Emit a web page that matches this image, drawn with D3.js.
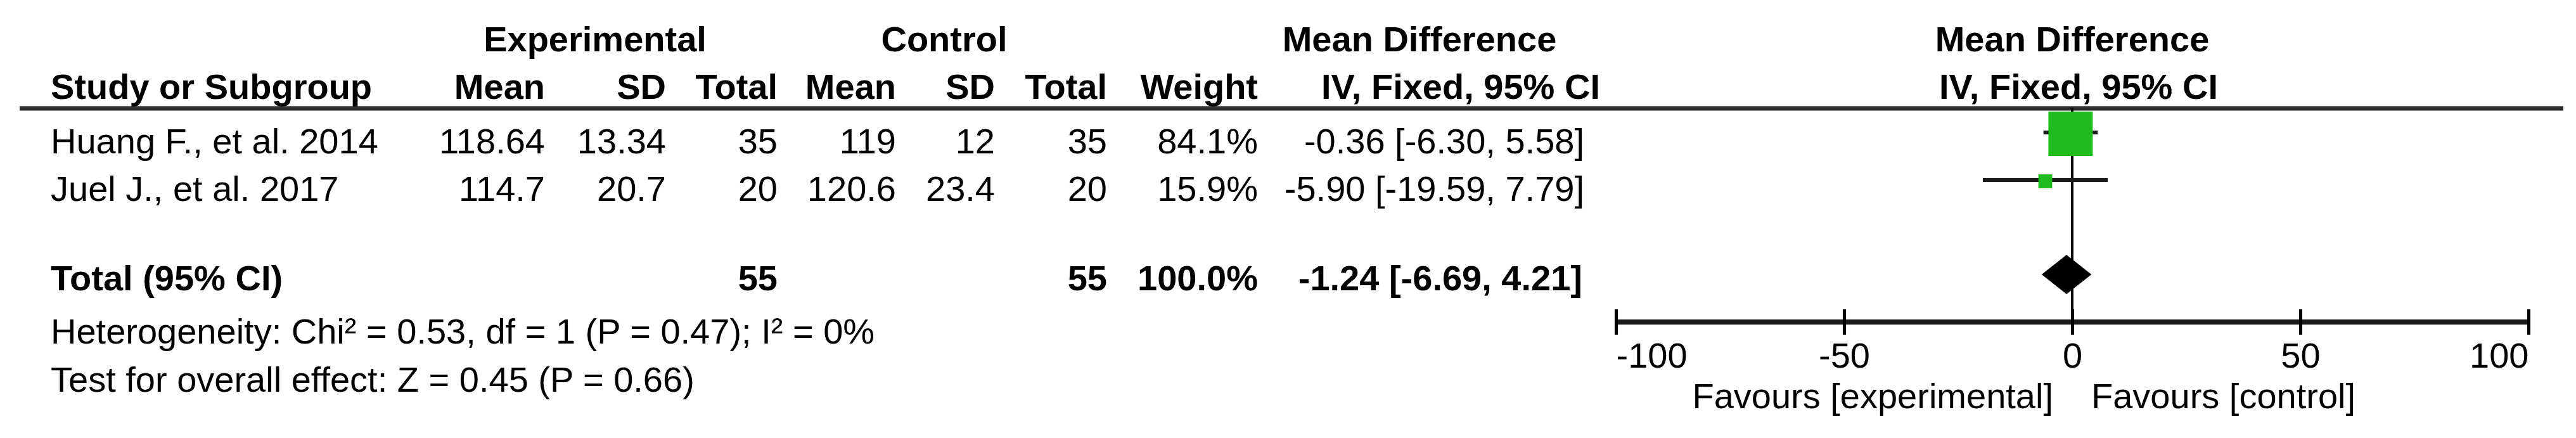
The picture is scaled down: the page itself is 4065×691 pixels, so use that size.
<!DOCTYPE html>
<html>
<head>
<meta charset="utf-8">
<script src="https://cdn.jsdelivr.net/npm/d3@7"></script>
<style>
  body { margin: 0; background: #fff; }
  text { font-family: "Liberation Sans", Arial, sans-serif; font-size: 56px; fill: #000; }
  .b { font-weight: bold; }
</style>
</head>
<body>
<div id="chart"></div>
<script>
// forest plot: mean difference, IV fixed effect

var studies  = ["Huang F., et al. 2014", "Juel J., et al. 2017"];
var expMean  = [118.64, 114.7];
var expSD    = [13.34, 20.7];
var expN     = [35, 20];
var ctlMean  = [119, 120.6];
var ctlSD    = [12, 23.4];
var ctlN     = [35, 20];
var weights  = [84.1, 15.9];
var md       = [-0.36, -5.90];
var ciLow    = [-6.30, -19.59];
var ciHigh   = [5.58, 7.79];

var totalN      = [55, 55];
var totalWeight = 100.0;
var totalMD     = -1.24;
var totalLow    = -6.69;
var totalHigh   = 4.21;

var axisTicks = [-100, -50, 0, 50, 100];
var favours   = ["Favours [experimental]", "Favours [control]"];
var footnotes = ["Heterogeneity: Chi\u00b2 = 0.53, df = 1 (P = 0.47); I\u00b2 = 0%",
                 "Test for overall effect: Z = 0.45 (P = 0.66)"];

var W = 4065, H = 691;

var svg = d3.select("#chart").append("svg")
    .attr("width", W)
    .attr("height", H);

// column edges (table)
var col = {study: 80, expMean: 860, expSD: 1051, expN: 1227,
           ctlMean: 1414, ctlSD: 1570, ctlN: 1747, weight: 1985, ci: 2500};

var x = d3.scaleLinear().domain([-100, 100]).range([2550, 3990]);
var yRow = d3.scalePoint().domain(studies).range([209, 284]);
var boxSize = d3.scalePow().exponent(0.7).domain([0, 100]).range([0, 79]);

var fmt2 = function(v){ return v.toFixed(2); };
var ciText = function(m, l, h){ return fmt2(m) + " [" + fmt2(l) + ", " + fmt2(h) + "]"; };

function txt(t, xp, yp, anchor, bold){
    svg.append("text")
	.attr("x", xp).attr("y", yp)
	.attr("text-anchor", anchor)
	.attr("class", bold ? "b" : null)
	.text(t);
}

// headers
txt("Experimental", 939, 81, "middle", true);
txt("Control", 1490, 81, "middle", true);
txt("Mean Difference", 2240, 81, "middle", true);
txt("Mean Difference", 3270, 81, "middle", true);

txt("Study or Subgroup", col.study, 156, "start", true);
txt("Mean", col.expMean, 156, "end", true);
txt("SD", col.expSD, 156, "end", true);
txt("Total", col.expN, 156, "end", true);
txt("Mean", col.ctlMean, 156, "end", true);
txt("SD", col.ctlSD, 156, "end", true);
txt("Total", col.ctlN, 156, "end", true);
txt("Weight", col.weight, 156, "end", true);
txt("IV, Fixed, 95% CI", 2305, 156, "middle", true);
txt("IV, Fixed, 95% CI", 3280, 156, "middle", true);

svg.append("line")
    .attr("x1", 31).attr("x2", 4045)
    .attr("y1", 171).attr("y2", 171)
    .attr("stroke", "#2b2b2b")
    .attr("stroke-width", 7);

// study rows
var rows = svg.selectAll(".row")
    .data(studies)
    .enter().append("g")
    .attr("class", "row")
    .attr("transform", function(d){ return "translate(0," + (yRow(d) + 33) + ")"; });

var cells = [
    {k: "study",   a: "start", f: function(i){ return studies[i]; }},
    {k: "expMean", a: "end",   f: function(i){ return String(expMean[i]); }},
    {k: "expSD",   a: "end",   f: function(i){ return String(expSD[i]); }},
    {k: "expN",    a: "end",   f: function(i){ return String(expN[i]); }},
    {k: "ctlMean", a: "end",   f: function(i){ return String(ctlMean[i]); }},
    {k: "ctlSD",   a: "end",   f: function(i){ return String(ctlSD[i]); }},
    {k: "ctlN",    a: "end",   f: function(i){ return String(ctlN[i]); }},
    {k: "weight",  a: "end",   f: function(i){ return weights[i].toFixed(1) + "%"; }},
    {k: "ci",      a: "end",   f: function(i){ return ciText(md[i], ciLow[i], ciHigh[i]); }}
];

rows.each(function(d, i){
    var g = d3.select(this);
    cells.forEach(function(c){
	g.append("text")
	    .attr("x", col[c.k])
	    .attr("text-anchor", c.a)
	    .text(c.f(i));
    });
});

// total row
var totY = 458;
txt("Total (95% CI)", col.study, totY, "start", true);
txt(String(totalN[0]), col.expN, totY, "end", true);
txt(String(totalN[1]), col.ctlN, totY, "end", true);
txt(totalWeight.toFixed(1) + "%", col.weight, totY, "end", true);
txt(ciText(totalMD, totalLow, totalHigh), col.ci - 3, totY, "end", true);

footnotes.forEach(function(t, i){
    txt(t, col.study, 542 + i * 76, "start", false);
});

// plot
var axisY = 508;

svg.append("line")
    .attr("x1", x(0)).attr("x2", x(0))
    .attr("y1", 171).attr("y2", axisY + 20)
    .attr("stroke", "#000")
    .attr("stroke-width", 4);

svg.selectAll(".ci")
    .data(studies)
    .enter().append("line")
    .attr("class", "ci")
    .attr("x1", function(d, i){ return x(ciLow[i]); })
    .attr("x2", function(d, i){ return x(ciHigh[i]); })
    .attr("y1", function(d){ return yRow(d); })
    .attr("y2", function(d){ return yRow(d); })
    .attr("stroke", "#1a1a1a")
    .attr("stroke-width", 6);

svg.selectAll(".box")
    .data(studies)
    .enter().append("rect")
    .attr("class", "box")
    .attr("x", function(d, i){ return x(md[i]) - boxSize(weights[i]) / 2; })
    .attr("y", function(d, i){ return yRow(d) - boxSize(weights[i]) / 2 + 2; })
    .attr("width", function(d, i){ return boxSize(weights[i]); })
    .attr("height", function(d, i){ return boxSize(weights[i]); })
    .attr("fill", "#1fbb1f");

var dY = 433, dH = 31;
svg.append("path")
    .attr("d", "M" + x(totalLow) + "," + dY +
	  "L" + x(totalMD) + "," + (dY - dH) +
	  "L" + x(totalHigh) + "," + dY +
	  "L" + x(totalMD) + "," + (dY + dH) + "Z")
    .attr("fill", "#000");

var axis = d3.axisBottom(x)
    .tickValues(axisTicks)
    .tickSizeOuter(0)
    .tickFormat(function(d){ return String(d); });

var ax = svg.append("g")
    .attr("transform", "translate(0," + axisY + ")")
    .call(axis);

ax.select(".domain").remove();
ax.insert("line", ":first-child")
    .attr("x1", x(-100)).attr("x2", x(100))
    .attr("stroke", "#1a1a1a")
    .attr("stroke-width", 8);
ax.selectAll(".tick line")
    .attr("y1", -20).attr("y2", 20)
    .attr("stroke", "#000")
    .attr("stroke-width", 5);
ax.selectAll(".tick text")
    .attr("y", 72).attr("dy", 0)
    .attr("fill", "#000")
    .style("font-size", "56px")
    .style("font-family", "'Liberation Sans', Arial, sans-serif")
    .attr("text-anchor", function(d, i){
	return i === 0 ? "start" : (i === axisTicks.length - 1 ? "end" : "middle");
    });
ax.attr("font-size", null).attr("font-family", null);

txt(favours[0], x(0) - 30, 644, "end", false);
txt(favours[1], x(0) + 30, 644, "start", false);
</script>
</body>
</html>
